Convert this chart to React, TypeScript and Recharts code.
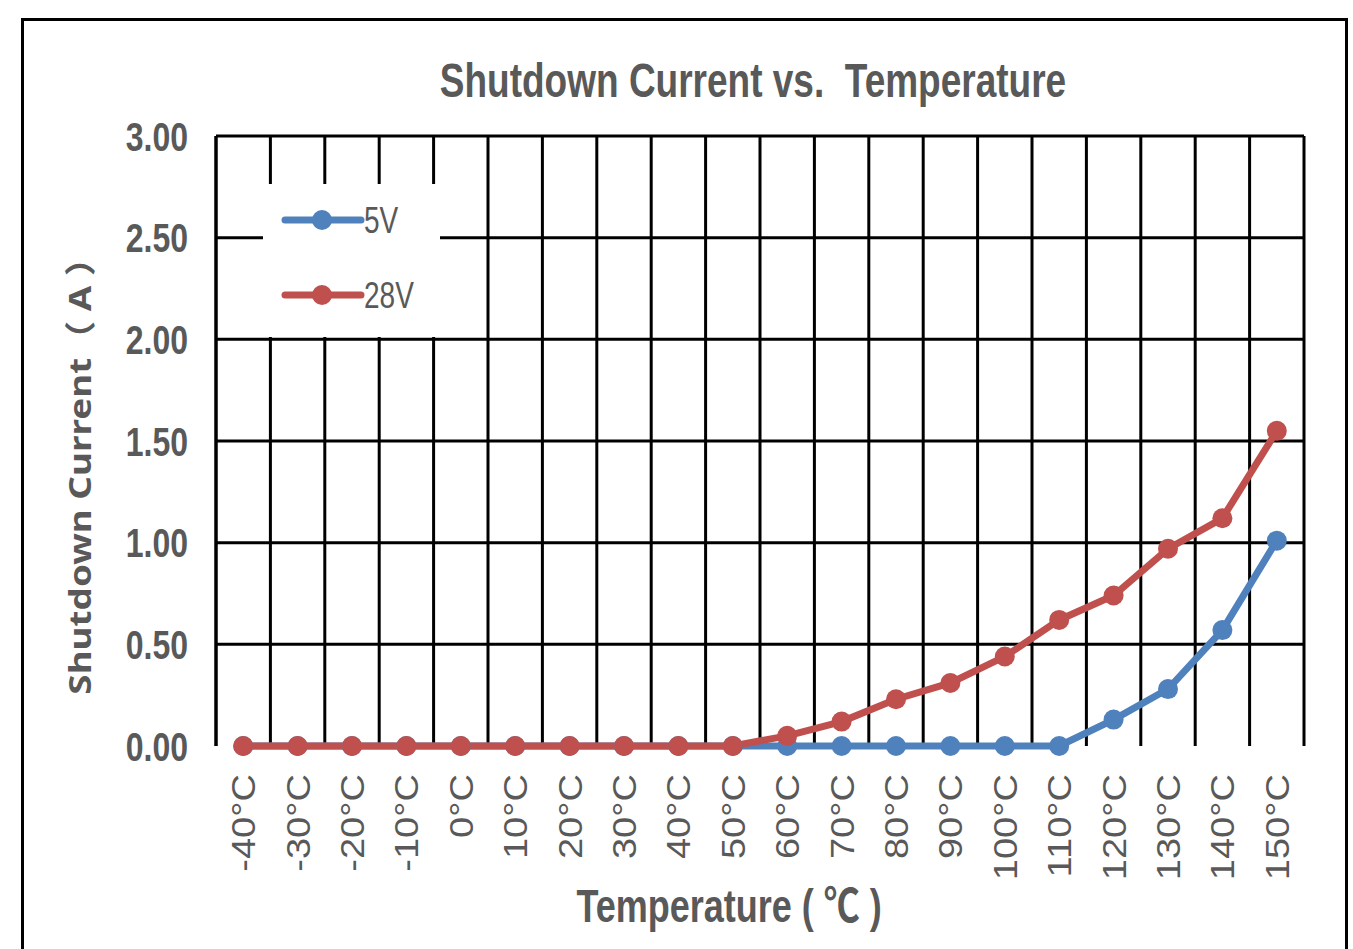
import { LineChart, Line, XAxis, YAxis, CartesianGrid, Legend } from 'recharts';

const temps = [-40, -30, -20, -10, 0, 10, 20, 30, 40, 50, 60, 70, 80, 90, 100, 110, 120, 130, 140, 150];
const current5V = [0, 0, 0, 0, 0, 0, 0, 0, 0, 0, 0, 0, 0, 0, 0, 0, 0.13, 0.28, 0.57, 1.01];
const current28V = [0, 0, 0, 0, 0, 0, 0, 0, 0, 0, 0.05, 0.12, 0.23, 0.31, 0.44, 0.62, 0.74, 0.97, 1.12, 1.55];
const yTicks = [0, 0.5, 1, 1.5, 2, 2.5, 3];

const data = temps.map((t, i) => ({ t, v5: current5V[i], v28: current28V[i] }));

const BLUE = '#4F81BD';
const RED = '#C0504D';
const GRAY = '#595959';
const FONT = '"Liberation Sans", Arial, sans-serif';

const YTick = ({ x, y, payload }: any) => (
  <text
    transform={`translate(${x + 4},${y}) scale(1,1.28)`}
    textAnchor="end"
    dy="0.36em"
    fill={GRAY}
    fontSize={32}
    fontWeight="bold"
    fontFamily={FONT}
  >
    {Number(payload.value).toFixed(2)}
  </text>
);

const XTick = ({ x, y, payload }: any) => (
  <text
    transform={`translate(${x + 12},${y - 4}) rotate(-90) scale(1.12,1)`}
    textAnchor="end"
    fill={GRAY}
    fontSize={34}
    fontFamily={FONT}
  >
    {`${payload.value}°C`}
  </text>
);

const LegendBox = () => (
  <div style={{ background: '#fff', width: 177, height: 153 }}>
    <svg width={177} height={153} style={{ display: 'block' }}>
      {[
        { name: '5V', color: BLUE, y: 36 },
        { name: '28V', color: RED, y: 111 },
      ].map((it) => (
        <g key={it.name}>
          <line x1={22} x2={98} y1={it.y} y2={it.y} stroke={it.color} strokeWidth={7} strokeLinecap="round" />
          <circle cx={59} cy={it.y} r={10} fill={it.color} />
          <text
            transform={`translate(101,${it.y}) scale(1,1.3)`}
            dy="0.36em"
            fill={GRAY}
            fontSize={28}
            fontFamily={FONT}
          >
            {it.name}
          </text>
        </g>
      ))}
    </svg>
  </div>
);

export default function App() {
  return (
    <div style={{ position: 'absolute', left: 0, top: 0, width: 1353, height: 949, background: '#fff', overflow: 'hidden' }}>
      <div
        style={{
          position: 'absolute',
          left: 21,
          top: 18,
          width: 1321,
          height: 1000,
          border: '3px solid #000',
        }}
      />
      <div
        style={{
          position: 'absolute',
          left: 0,
          top: 62,
          width: 1506,
          textAlign: 'center',
          fontFamily: FONT,
          fontWeight: 'bold',
          fontSize: 37,
          color: GRAY,
          transform: 'scaleY(1.28)',
          whiteSpace: 'pre',
          lineHeight: '40px',
        }}
      >
        {'Shutdown Current vs.  Temperature'}
      </div>
      <div style={{ position: 'absolute', left: 0, top: 0 }}>
        <LineChart width={1353} height={949} data={data} margin={{ top: 136, right: 49, bottom: 63, left: 56 }}>
          <CartesianGrid
            stroke="#000"
            strokeWidth={3}
            verticalCoordinatesGenerator={({ offset }: any) =>
              Array.from({ length: temps.length + 1 }, (_, i) => offset.left + (i * offset.width) / temps.length)
            }
            horizontalCoordinatesGenerator={({ offset }: any) =>
              yTicks.slice(1).map((v) => offset.top + offset.height * (1 - v / 3))
            }
          />
          <XAxis
            dataKey="t"
            type="number"
            domain={[-45, 155]}
            ticks={temps}
            interval={0}
            height={140}
            tickLine={false}
            axisLine={false}
            tick={<XTick />}
            tickMargin={26}
            label={{
              content: ({ viewBox }: any) => (
                <text
                  transform={`translate(${viewBox.x + viewBox.width / 2 - 31},${viewBox.y + 176}) scale(1,1.28)`}
                  textAnchor="middle"
                  fill={GRAY}
                  fontSize={36}
                  fontWeight="bold"
                  fontFamily={'"Liberation Sans", "Noto Sans CJK SC", sans-serif'}
                >
                  {'Temperature ( ℃ )'}
                </text>
              ),
            }}
          />
          <YAxis
            domain={[0, 3]}
            ticks={yTicks}
            interval={0}
            width={160}
            tickLine={false}
            axisLine={{ stroke: '#000', strokeWidth: 3 }}
            tick={<YTick />}
            tickMargin={26}
            label={{
              content: ({ viewBox }: any) => (
                <text
                  transform={`translate(${viewBox.x + 35},${viewBox.y + viewBox.height / 2 + 26}) rotate(-90) scale(1.19,1)`}
                  textAnchor="middle"
                  fill={GRAY}
                  fontSize={31}
                  fontWeight="bold"
                  fontFamily={'"Noto Sans", "Noto Sans CJK SC", sans-serif'}
                  xmlSpace="preserve"
                  style={{ whiteSpace: 'pre' }}
                >
                  {'Shutdown Current（ A ）'}
                </text>
              ),
            }}
          />
          <Legend
            layout="horizontal"
            align="center"
            verticalAlign="middle"
            content={<LegendBox />}
            wrapperStyle={{ position: 'absolute', left: 263, top: 184, width: 177, height: 153 }}
          />
          <Line
            dataKey="v5"
            name="5V"
            stroke={BLUE}
            strokeWidth={7}
            dot={{ r: 10, fill: BLUE, stroke: BLUE, strokeWidth: 0 }}
            isAnimationActive={false}
          />
          <Line
            dataKey="v28"
            name="28V"
            stroke={RED}
            strokeWidth={7}
            dot={{ r: 10, fill: RED, stroke: RED, strokeWidth: 0 }}
            isAnimationActive={false}
          />
        </LineChart>
      </div>
    </div>
  );
}
